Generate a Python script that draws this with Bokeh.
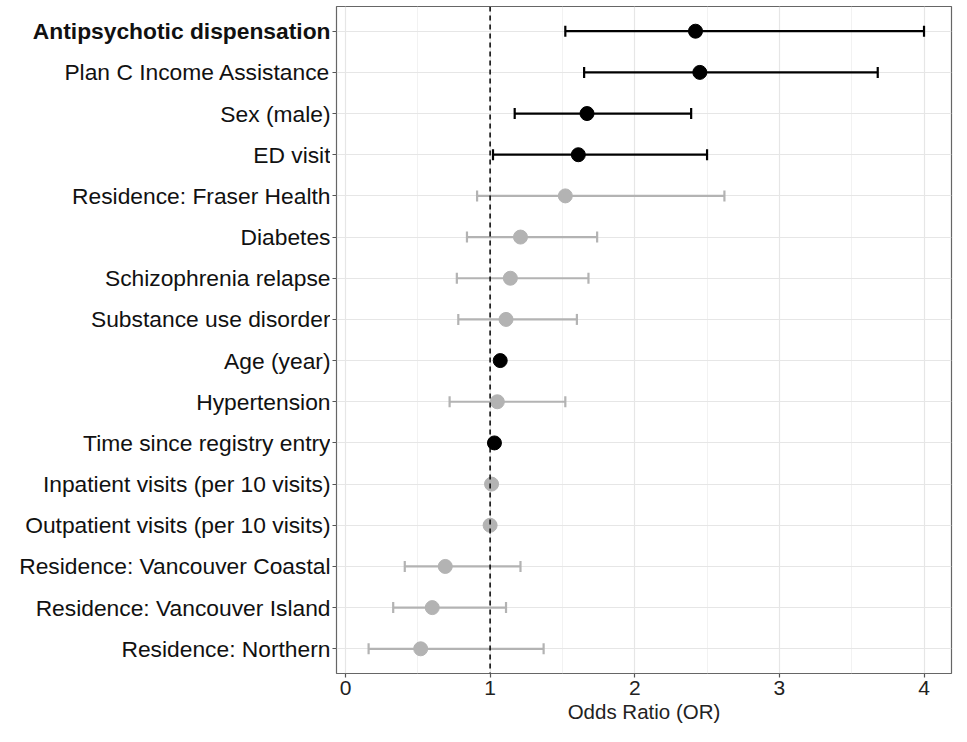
from bokeh.plotting import figure
from bokeh.layouts import row
from bokeh.models import (ColumnDataSource, Range1d, FixedTicker,
                          Whisker, TeeHead, Span)
from bokeh.embed import file_html
from bokeh.resources import INLINE

# ---- data (top to bottom as in the chart) ----
labels = ["Antipsychotic dispensation", "Plan C Income Assistance", "Sex (male)",
          "ED visit", "Residence: Fraser Health", "Diabetes", "Schizophrenia relapse",
          "Substance use disorder", "Age (year)", "Hypertension",
          "Time since registry entry", "Inpatient visits (per 10 visits)",
          "Outpatient visits (per 10 visits)", "Residence: Vancouver Coastal",
          "Residence: Vancouver Island", "Residence: Northern"]
odds = [2.42, 2.45, 1.67, 1.61, 1.52, 1.21, 1.14, 1.11, 1.07, 1.05, 1.03, 1.01, 1.00, 0.69, 0.60, 0.52]
lower = [1.52, 1.65, 1.17, 1.02, 0.91, 0.84, 0.77, 0.78, 1.05, 0.72, 1.02, 1.00, 0.99, 0.41, 0.33, 0.16]
upper = [4.00, 3.68, 2.39, 2.50, 2.62, 1.74, 1.68, 1.60, 1.09, 1.52, 1.04, 1.02, 1.01, 1.21, 1.11, 1.37]
significant = [True, True, True, True, False, False, False, False, True, False,
               True, False, False, False, False, False]
label_style = ["bold"] + ["normal"] * 15
x_ticks = [0, 1, 2, 3, 4]

BLACK = "#000000"
GRAY = "#b3b3b3"
FONT = "Liberation Sans"

n = len(labels)
rows = [n - 1 - i for i in range(n)]          # top label -> highest row
x_start, x_end = -0.062, 4.19
FRAME_H = 667
TOP = 6
BOTTOM = 53

y_range = Range1d(-0.6, n - 1 + 0.6)

# ---- main plot ----
p = figure(frame_width=615, frame_height=FRAME_H, output_backend="svg",
           toolbar_location=None, y_range=y_range,
           x_range=Range1d(x_start, x_end),
           min_border_top=TOP, min_border_right=2, min_border_bottom=4,
           min_border_left=6)

p.background_fill_color = "white"
p.outline_line_color = "#666666"
p.outline_line_width = 1.2

p.xgrid.ticker = FixedTicker(ticks=x_ticks, minor_ticks=[0.5, 1.5, 2.5, 3.5])
p.xgrid.grid_line_color = "#e6e6e6"
p.xgrid.grid_line_width = 1.2
p.xgrid.minor_grid_line_color = "#efefef"
p.xgrid.minor_grid_line_width = 0.8
p.ygrid.ticker = FixedTicker(ticks=rows)
p.ygrid.grid_line_color = "#e6e6e6"
p.ygrid.grid_line_width = 1.2

p.xaxis.ticker = FixedTicker(ticks=x_ticks)
p.xaxis.axis_label = "Odds Ratio (OR)"
p.xaxis.axis_label_text_font = FONT
p.xaxis.axis_label_text_font_style = "normal"
p.xaxis.axis_label_text_font_size = "20.5px"
p.xaxis.axis_label_text_color = "#222222"
p.xaxis.axis_label_standoff = 2
p.xaxis.major_label_text_font = FONT
p.xaxis.major_label_text_font_size = "21px"
p.xaxis.major_label_text_color = "#222222"
p.xaxis.major_label_standoff = 3
p.xaxis.minor_tick_line_color = None

p.yaxis.ticker = FixedTicker(ticks=rows)
p.yaxis.major_label_overrides = {r: "" for r in rows}
p.yaxis.major_label_text_font_size = "1px"
p.yaxis.major_label_standoff = 0
p.yaxis.minor_tick_line_color = None

for ax in (p.xaxis[0], p.yaxis[0]):
    ax.axis_line_color = None
    ax.major_tick_line_color = "#555555"
    ax.major_tick_in = 0
    ax.major_tick_out = 4
    ax.major_tick_line_width = 1.2

p.add_layout(Span(location=1, dimension="height", line_color="black",
                  line_dash="5 4", line_width=1.5))

def subset(flag):
    idx = [i for i, s in enumerate(significant) if s == flag]
    return ColumnDataSource(dict(
        y=[rows[i] for i in idx],
        odds=[odds[i] for i in idx],
        lo=[lower[i] for i in idx],
        hi=[upper[i] for i in idx]))

for flag, color in ((False, GRAY), (True, BLACK)):
    src = subset(flag)
    w = Whisker(source=src, base="y", lower="lo", upper="hi", dimension="width",
                line_color=color, line_width=2.2, level="underlay",
                lower_head=TeeHead(size=11, line_color=color, line_width=2.2),
                upper_head=TeeHead(size=11, line_color=color, line_width=2.2))
    p.add_layout(w)
    p.scatter(x="odds", y="y", source=src, size=14, fill_color=color,
              line_color=color)

# ---- label panel (category names, first one bold) ----
lab = figure(frame_width=330, frame_height=FRAME_H, output_backend="svg",
             toolbar_location=None, y_range=y_range, x_range=Range1d(0, 1),
             x_axis_location=None, y_axis_location=None,
             min_border_top=TOP, min_border_bottom=BOTTOM,
             min_border_left=0, min_border_right=0)
lab.outline_line_color = None
lab.xgrid.visible = False
lab.ygrid.visible = False
lab_src = ColumnDataSource(dict(x=[1.0] * n, y=rows, text=labels, style=label_style))
lab.text(x="x", y="y", text="text", source=lab_src, text_align="right",
         text_baseline="middle", text_font_size="22.8px", text_color="#111111",
         text_font_style="style", text_font={"value": FONT})

layout = row(lab, p)
open("out.html", "w").write(file_html(layout, INLINE))
